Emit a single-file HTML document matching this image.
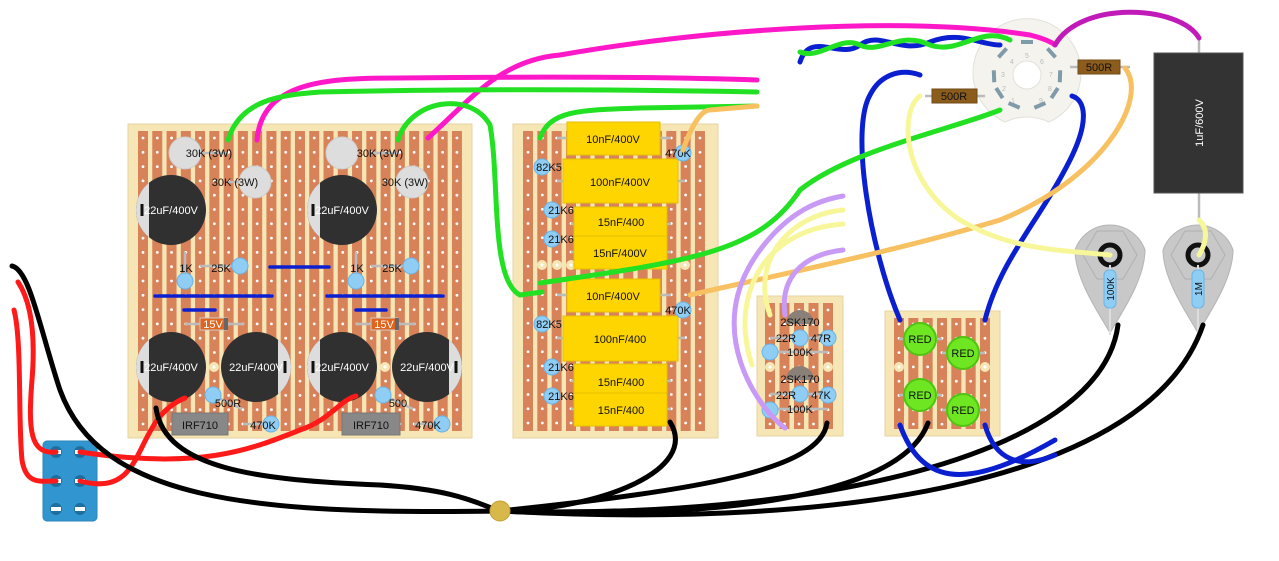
<!DOCTYPE html>
<html><head><meta charset="utf-8"><style>
html,body{margin:0;padding:0;background:#fff;width:1279px;height:561px;overflow:hidden}
svg{display:block}
text{font-family:"Liberation Sans",sans-serif;}
</style></head><body>
<svg id="s" width="1279" height="561" viewBox="0 0 1279 561" xmlns="http://www.w3.org/2000/svg">
<g id="boards"></g>
<g id="comps">
<g stroke="#0a1fd0" stroke-width="3.5" stroke-linecap="round">
<line x1="270" y1="267" x2="329" y2="267"/><line x1="155" y1="296" x2="272" y2="296"/><line x1="327" y1="296" x2="443" y2="296"/>
<line x1="184" y1="310" x2="215" y2="310"/><line x1="356" y1="310" x2="386" y2="310"/>
</g>
<g stroke="#bbb" stroke-width="2.5">
<line x1="185" y1="252" x2="185" y2="281"/><line x1="200" y1="266" x2="240" y2="266"/>
<line x1="356" y1="252" x2="356" y2="281"/><line x1="371" y1="266" x2="411" y2="266"/>
<line x1="185" y1="324" x2="244" y2="324"/><line x1="356" y1="324" x2="415" y2="324"/>
<line x1="213" y1="395" x2="242" y2="409"/><line x1="383" y1="395" x2="413" y2="409"/>
<line x1="243" y1="424" x2="271" y2="424"/><line x1="414" y1="424" x2="442" y2="424"/>
<line x1="200" y1="153" x2="228" y2="153"/><line x1="228" y1="182" x2="255" y2="182"/>
<line x1="371" y1="153" x2="399" y2="153"/><line x1="399" y1="182" x2="427" y2="182"/>
</g>
<g fill="#ddd" stroke="#ccc"><circle cx="185" cy="153" r="16"/><circle cx="255" cy="182" r="16"/><circle cx="342" cy="153" r="16"/><circle cx="412" cy="182" r="16"/></g>
<g font-size="11" fill="#111" text-anchor="middle"><text x="209" y="157">30K (3W)</text><text x="235" y="186">30K (3W)</text><text x="380" y="157">30K (3W)</text><text x="405" y="186">30K (3W)</text></g>
<g id="caps"></g>
<g fill="#8fcdf5" stroke="#6bb4e6"><circle cx="185" cy="281" r="8"/><circle cx="240" cy="266" r="8"/><circle cx="356" cy="281" r="8"/><circle cx="411" cy="266" r="8"/>
<circle cx="213" cy="395" r="8"/><circle cx="383" cy="395" r="8"/><circle cx="271" cy="424" r="8"/><circle cx="442" cy="424" r="8"/></g>
<g font-size="11" fill="#111" text-anchor="middle"><text x="186" y="272">1K</text><text x="221" y="272">25K</text><text x="357" y="272">1K</text><text x="392" y="272">25K</text>
<text x="228" y="407">500R</text><text x="398" y="407">500</text><text x="263" y="429">470K</text><text x="428" y="429">470K</text></g>
<g><rect x="200" y="318" width="27" height="12" fill="#e0641c" stroke="#ccc"/><rect x="224" y="318" width="4" height="12" fill="#666"/>
<rect x="371" y="318" width="27" height="12" fill="#e0641c" stroke="#ccc"/><rect x="395" y="318" width="4" height="12" fill="#666"/></g>
<g font-size="11" fill="#fff" text-anchor="middle"><text x="213" y="328">15V</text><text x="384" y="328">15V</text></g>
<g fill="#888" stroke="#777"><rect x="172" y="413" width="56" height="22"/><rect x="342" y="413" width="58" height="22"/></g>
<g font-size="11" fill="#111" text-anchor="middle"><text x="200" y="429">IRF710</text><text x="371" y="429">IRF710</text></g>
<g stroke="#bbb" stroke-width="2.5"><line x1="557" y1="138" x2="671" y2="138"/><line x1="557" y1="181" x2="685" y2="181"/>
<line x1="571" y1="224" x2="671" y2="224"/><line x1="571" y1="252" x2="671" y2="252"/>
<line x1="557" y1="295" x2="671" y2="295"/><line x1="557" y1="338" x2="685" y2="338"/>
<line x1="571" y1="381" x2="671" y2="381"/><line x1="571" y1="409" x2="671" y2="409"/></g>
<g fill="#ffd500" stroke="#e6be00"><rect x="567" y="122" width="93" height="33"/><rect x="563" y="159" width="115" height="44"/><rect x="574" y="207" width="93" height="29"/><rect x="574" y="236" width="93" height="33"/>
<rect x="567" y="279" width="93" height="33"/><rect x="563" y="316" width="115" height="45"/><rect x="574" y="364" width="93" height="29"/><rect x="574" y="393" width="93" height="33"/></g>
<g font-size="11" fill="#111" text-anchor="middle"><text x="613" y="143">10nF/400V</text><text x="620" y="186">100nF/400V</text><text x="621" y="226">15nF/400</text><text x="620" y="257">15nF/400V</text>
<text x="613" y="300">10nF/400V</text><text x="620" y="343">100nF/400</text><text x="621" y="386">15nF/400</text><text x="621" y="414">15nF/400</text></g>
<g fill="#8fcdf5" stroke="#6bb4e6"><circle cx="683" cy="153" r="8"/><circle cx="683" cy="310" r="8"/><circle cx="542" cy="167" r="8"/><circle cx="542" cy="324" r="8"/>
<circle cx="552" cy="210" r="8"/><circle cx="552" cy="239" r="8"/><circle cx="552" cy="367" r="8"/><circle cx="552" cy="396" r="8"/></g>
<g font-size="11" fill="#111" text-anchor="middle"><text x="678" y="157">470K</text><text x="678" y="314">470K</text><text x="549" y="171">82K5</text><text x="549" y="328">82K5</text>
<text x="561" y="214">21K6</text><text x="561" y="243">21K6</text><text x="561" y="371">21K6</text><text x="561" y="400">21K6</text></g>
<g stroke="#bbb" stroke-width="2.5"><line x1="770" y1="338" x2="828" y2="338"/><line x1="770" y1="352" x2="828" y2="352"/><line x1="770" y1="394" x2="828" y2="394"/><line x1="770" y1="409" x2="828" y2="409"/></g>
<g fill="#8a8078"><path d="M786,324 A14,14 0 0 1 814,324 Z"/><path d="M786,380 A14,14 0 0 1 814,380 Z"/></g>
<g fill="#8fcdf5" stroke="#6bb4e6"><circle cx="800" cy="338" r="8"/><circle cx="828" cy="338" r="8"/><circle cx="770" cy="352" r="8"/><circle cx="800" cy="394" r="8"/><circle cx="828" cy="395" r="8"/><circle cx="770" cy="410" r="8"/></g>
<g font-size="11" fill="#111" text-anchor="middle"><text x="800" y="326">2SK170</text><text x="786" y="342">22R</text><text x="821" y="342">47R</text><text x="800" y="356">100K</text>
<text x="800" y="383">2SK170</text><text x="786" y="399">22R</text><text x="821" y="399">47K</text><text x="800" y="413">100K</text></g>
<g stroke="#bbb" stroke-width="2.5"><line x1="899" y1="339" x2="942" y2="339"/><line x1="942" y1="353" x2="985" y2="353"/><line x1="899" y1="395" x2="942" y2="395"/><line x1="942" y1="410" x2="985" y2="410"/></g>
<g fill="#6ee622" stroke="#4fc412" stroke-width="2"><circle cx="920" cy="339" r="16"/><circle cx="963" cy="353" r="16"/><circle cx="920" cy="395" r="16"/><circle cx="963" cy="410" r="16"/></g>
<g font-size="11" fill="#111" text-anchor="middle"><text x="920" y="343">RED</text><text x="963" y="357">RED</text><text x="920" y="399">RED</text><text x="963" y="414">RED</text></g>
<path d="M1005,122 A54,54 0 1 1 1049,122 Q1027,112 1005,122 Z" fill="#f4f3ee" stroke="#e2e1da"/>
<circle cx="1027" cy="75" r="14" fill="#fff" stroke="#e2e1da"/>
<g stroke="#7f9aa8" stroke-width="4" id="pins"></g>
<g font-size="7" fill="#bbb" text-anchor="middle"><text x="1012" y="64">4</text><text x="1027" y="58">5</text><text x="1042" y="64">6</text><text x="1003" y="77">3</text><text x="1051" y="77">7</text><text x="1004" y="91">2</text><text x="1050" y="91">8</text><text x="1013" y="103">1</text><text x="1041" y="103">9</text></g>
<line x1="1070" y1="67" x2="1130" y2="67" stroke="#bbb" stroke-width="2.5"/><line x1="925" y1="96" x2="985" y2="96" stroke="#bbb" stroke-width="2.5"/>
<rect x="1078" y="60" width="42" height="14" fill="#8c5c1c" stroke="#704a14"/><rect x="932" y="89" width="45" height="14" fill="#8c5c1c" stroke="#704a14"/>
<g font-size="11" fill="#111" text-anchor="middle"><text x="1099" y="71">500R</text><text x="954" y="100">500R</text></g>
<line x1="1199" y1="38" x2="1199" y2="220" stroke="#bbb" stroke-width="2.5"/>
<rect x="1154" y="53" width="89" height="140" fill="#333" stroke="#555"/>
<text x="0" y="0" font-size="11" fill="#fff" text-anchor="middle" transform="translate(1203,123) rotate(-90)">1uF/600V</text>
<g id="pots"></g>
<rect x="43" y="441" width="54" height="80" rx="4" fill="#3196cf" stroke="#2a86bb"/>
<g fill="#1f6f9e"><circle cx="56" cy="452" r="6"/><circle cx="80" cy="452" r="6"/><circle cx="56" cy="481" r="6"/><circle cx="80" cy="481" r="6"/><circle cx="56" cy="509" r="6"/><circle cx="80" cy="509" r="6"/></g>
<g fill="#fff"><rect x="51" y="450" width="10" height="4"/><rect x="75" y="450" width="10" height="4"/><rect x="51" y="479" width="10" height="4"/><rect x="75" y="479" width="10" height="4"/><rect x="51" y="507" width="10" height="4"/><rect x="75" y="507" width="10" height="4"/></g>
</g>
<g fill="none" stroke-linecap="round" stroke-width="5">
<path stroke="#ff1a1a" d="M18,282 C30,300 36,330 32,380 C28,430 30,455 56,452"/>
<path stroke="#ff1a1a" d="M14,310 C22,340 18,420 22,460 C26,485 40,481 56,481"/>
<path stroke="#ff1a1a" d="M80,452 C200,470 250,450 300,430 C330,420 340,400 356,396"/>
<path stroke="#ff1a1a" d="M80,481 C150,500 130,420 185,398"/>
<path stroke="#000" d="M12,266 C30,270 40,330 60,390 C100,500 250,515 500,511 C600,510 700,470 670,422"/>
<path stroke="#000" d="M156,408 C165,470 260,480 380,485 C460,490 480,505 500,511 C700,490 820,470 827,423"/>
<path stroke="#000" d="M500,511 C700,520 900,500 928,423"/>
<path stroke="#000" d="M500,511 C800,520 1100,460 1118,325"/>
<path stroke="#000" d="M500,511 C850,530 1150,480 1203,325"/>
<path stroke="#0a1fd0" d="M900,320 C870,250 850,130 870,95 C880,75 900,68 920,75"/>
<path stroke="#0a1fd0" d="M985,320 C1000,260 1040,220 1070,160 C1090,120 1085,100 1072,96"/>
<path stroke="#0a1fd0" d="M900,425 C920,480 960,495 1055,440"/>
<path stroke="#0a1fd0" d="M985,425 C995,460 1020,470 1055,455"/>
<path stroke="#0a1fd0" d="M800,62 C810,30 840,60 860,45 C880,30 900,55 930,42 C960,30 980,45 1000,45"/>
<path stroke="#22e022" d="M800,52 C820,60 840,35 860,45 C880,55 900,30 930,45 C960,55 980,25 1010,40"/>
<path stroke="#ff18c8" d="M257,140 C262,80 330,78 400,78 C600,76 700,78 757,80"/>
<path stroke="#ff18c8" d="M428,138 C470,100 500,60 560,55 C700,30 900,15 1030,35 C1050,40 1055,45 1055,45"/>
<path stroke="#c01ab8" d="M1055,45 C1080,0 1180,5 1199,38"/>
<path stroke="#22e022" d="M228,140 C240,100 280,95 320,92 C500,88 650,90 757,92"/>
<path stroke="#22e022" d="M398,140 C410,100 470,90 490,125 C500,180 490,280 520,295 L542,292"/>
<path stroke="#22e022" d="M540,138 C550,110 580,110 640,108 L757,106"/>
<path stroke="#22e022" d="M540,283 C700,260 760,250 800,190 C850,150 950,130 1000,110"/>
<path stroke="#f7c060" d="M683,150 C690,130 700,110 710,110 L757,106"/>
<path stroke="#f7c060" d="M690,295 C800,270 900,250 1000,220 C1100,180 1150,100 1125,68"/>
<path stroke="#f7f79a" d="M920,96 C900,110 900,180 960,220 C1010,250 1060,250 1110,255"/>
<path stroke="#f7f79a" d="M1199,220 C1210,230 1205,245 1199,255"/>
<path stroke="#f7f79a" d="M770,315 C750,260 790,215 843,210"/>
<path stroke="#f7f79a" d="M752,365 C730,300 760,230 843,224"/>
<path stroke="#c89af5" d="M785,315 C780,280 800,255 843,250"/>
<path stroke="#c89af5" d="M785,428 C760,410 700,330 760,250 C790,210 820,200 843,196"/>
</g>
<circle cx="500" cy="511" r="10" fill="#d8b84a" stroke="#c4a033"/>
</svg>
<script>
(function(){
var NS="http://www.w3.org/2000/svg",b=document.getElementById("boards");
function el(t,a,p){var e=document.createElementNS(NS,t);for(var k in a)e.setAttribute(k,a[k]);(p||b).appendChild(e);return e;}
function board(x,y,w,h,cx0,n,sp,ry0,m,rsp){
 el("rect",{x:x,y:y,width:w,height:h,fill:"#f7e6b5",stroke:"#e5d3a0"});
 for(var i=0;i<n;i++){var cx=cx0+i*sp;el("rect",{x:cx-5,y:y+7,width:10,height:h-14,fill:"#d8825a"});
  for(var j=0;j<m;j++)el("circle",{cx:cx,cy:ry0+j*rsp,r:1.4,fill:"#fff"});}
}
board(128,124,344,314,143,23,14.27,138,21,14.3);
board(513,124,205,314,528,13,14.33,138,21,14.25);
board(757,296,86,140,770,5,14.5,310,9,14.25);
board(885,311,115,125,899,7,14.33,324,8,14.3);
[[214,367],[385,367],[542,265],[557,265],[571,265],[685,265],[770,367],[828,367],[899,367],[985,367]].forEach(function(p){el("circle",{cx:p[0],cy:p[1],r:5,fill:"#f7e6b5"});el("circle",{cx:p[0],cy:p[1],r:1.5,fill:"#fff"});});
var c=document.getElementById("caps");
[[171,210,0],[342,210,0],[171,367,0],[256,367,1],[342,367,0],[427,367,1]].forEach(function(a){
 var x=a[0],y=a[1],r=35;el("circle",{cx:x,cy:y,r:r,fill:"#303030"},c);
 var s=a[2]?1:-1,d=22,hh=Math.sqrt(r*r-d*d);
 el("path",{d:"M"+(x+s*d)+","+(y-hh)+" A"+r+","+r+" 0 0 "+(a[2]?1:0)+" "+(x+s*d)+","+(y+hh)+" Z",fill:"#ddd"},c);
 el("rect",{x:x+s*29-1.5,y:y-6,width:3,height:12,fill:"#111"},c);
 var t=el("text",{x:x,y:y+4,"font-size":"11",fill:"#fff","text-anchor":"middle"},c);t.textContent="22uF/400V";
});
var pg=document.getElementById("pins");
var pins=[[1013,108],[1001,92],[1001,76],[1006,56],[1027,48],[1048,56],[1053,76],[1053,92],[1041,108]];
pins.forEach(function(p){var dx=p[0]-1027,dy=p[1]-75,L=Math.sqrt(dx*dx+dy*dy),ux=dx/L,uy=dy/L,tx=-uy*6,ty=ux*6;
 var mx=1027+ux*33,my=75+uy*33;el("line",{x1:mx-tx,y1:my-ty,x2:mx+tx,y2:my+ty},pg);});
var po=document.getElementById("pots");
[[1110,"100K"],[1198,"1M"]].forEach(function(q){var x=q[0],y=255;
 el("path",{d:"M"+(x-35)+","+(y-5)+" A37,37 0 0 1 "+(x+35)+","+(y-5)+" C"+(x+35)+","+(y+25)+" "+(x+10)+","+(y+60)+" "+x+","+(y+78)+" C"+(x-10)+","+(y+60)+" "+(x-35)+","+(y+25)+" "+(x-35)+","+(y-5)+" Z",fill:"#c8c8c8",stroke:"#b5b5b5"},po);
 el("polygon",{points:(x-27)+","+y+" "+(x-13)+","+(y-24)+" "+(x+13)+","+(y-24)+" "+(x+27)+","+y+" "+(x+13)+","+(y+24)+" "+(x-13)+","+(y+24),fill:"none",stroke:"#b0b0b0"},po);
 el("circle",{cx:x,cy:y,r:10,fill:"none",stroke:"#111","stroke-width":"5"},po);
 el("line",{x1:x,y1:y+10,x2:x,y2:y+80,stroke:"#ddd","stroke-width":"2"},po);
 el("rect",{x:x-6,y:y+15,width:12,height:38,rx:5,fill:"#8fcdf5",stroke:"#6bb4e6"},po);
 var t=el("text",{"font-size":"10",fill:"#111","text-anchor":"middle",transform:"translate("+(x+4)+","+(y+34)+") rotate(-90)"},po);t.textContent=q[1];
});
})();
</script>
</body></html>
